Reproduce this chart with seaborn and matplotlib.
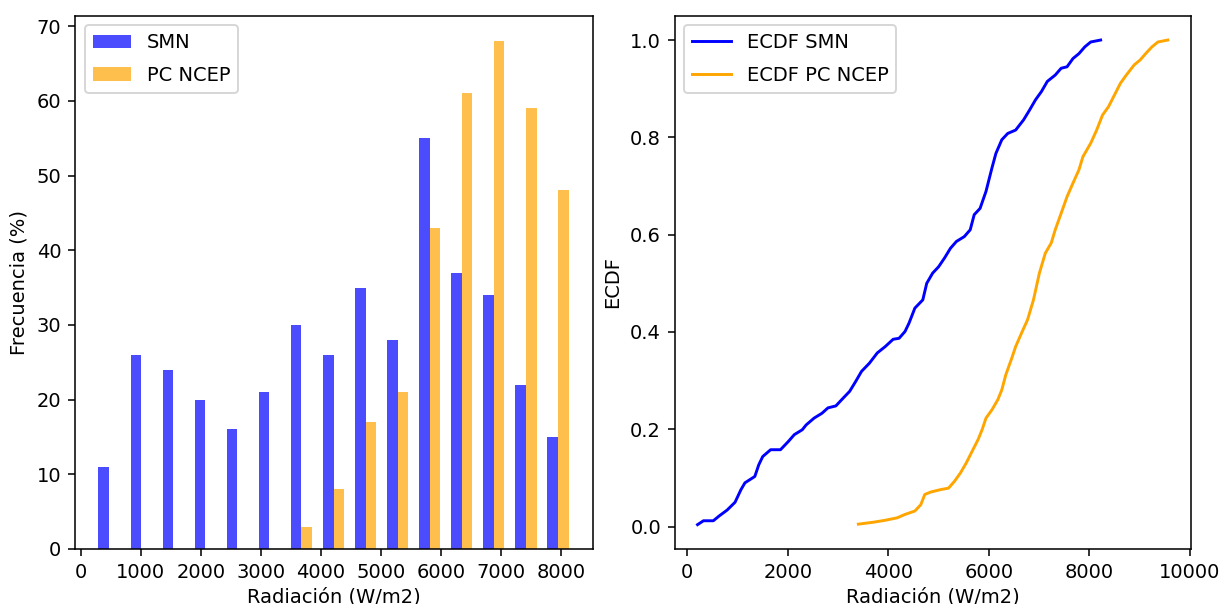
import numpy as np
import pandas as pd
import matplotlib
matplotlib.use("Agg")
import matplotlib.pyplot as plt
import seaborn as sns

# ---------------- data ----------------
series = ["SMN", "PC NCEP"]
n_bins = 15
bin_start = 205.0
bin_end = 8220.0
smn_counts = [11, 26, 24, 20, 16, 21, 30, 26, 35, 28, 55, 37, 34, 22, 15]
pc_counts = [0, 0, 0, 0, 0, 0, 3, 8, 17, 21, 43, 61, 68, 59, 48]

ecdf_smn_x = [205, 323, 519, 637, 794, 951, 1069, 1148, 1344, 1423, 1502, 1659,
              1855, 2012, 2130, 2288, 2366, 2524, 2681, 2799, 2956, 3074, 3231,
              3349, 3467, 3625, 3781, 3939, 4096, 4214, 4332, 4411, 4528, 4686,
              4764, 4882, 5000, 5118, 5236, 5354, 5511, 5629, 5708, 5825, 5943,
              6061, 6140, 6257, 6375, 6533, 6691, 6809, 6927, 7045, 7163, 7320,
              7438, 7555, 7673, 7791, 7909, 8026, 8223]
ecdf_smn_y = [0.004, 0.012, 0.012, 0.022, 0.034, 0.050, 0.076, 0.090, 0.103,
              0.127, 0.144, 0.158, 0.158, 0.175, 0.189, 0.199, 0.209, 0.223,
              0.233, 0.244, 0.248, 0.261, 0.278, 0.298, 0.319, 0.336, 0.357,
              0.370, 0.385, 0.387, 0.401, 0.418, 0.449, 0.466, 0.500, 0.521,
              0.534, 0.552, 0.572, 0.586, 0.596, 0.610, 0.641, 0.654, 0.689,
              0.737, 0.767, 0.795, 0.808, 0.815, 0.836, 0.856, 0.877, 0.894,
              0.915, 0.928, 0.942, 0.945, 0.962, 0.972, 0.986, 0.996, 1.000]

ecdf_pc_x = [3404, 3703, 3939, 4175, 4332, 4528, 4646, 4725, 4843, 5040, 5197,
             5315, 5433, 5551, 5668, 5786, 5865, 5943, 6061, 6179, 6257, 6337,
             6455, 6533, 6651, 6769, 6847, 6887, 7005, 7123, 7241, 7320, 7438,
             7555, 7673, 7791, 7870, 8026, 8144, 8262, 8380, 8498, 8616, 8734,
             8892, 9009, 9127, 9245, 9363, 9559]
ecdf_pc_y = [0.005, 0.009, 0.013, 0.018, 0.025, 0.032, 0.045, 0.066, 0.071,
             0.076, 0.079, 0.093, 0.110, 0.131, 0.155, 0.179, 0.199, 0.223,
             0.240, 0.261, 0.281, 0.312, 0.346, 0.370, 0.398, 0.425, 0.452,
             0.466, 0.521, 0.562, 0.583, 0.610, 0.644, 0.678, 0.706, 0.733,
             0.760, 0.788, 0.815, 0.846, 0.863, 0.887, 0.911, 0.928, 0.949,
             0.959, 0.973, 0.986, 0.996, 1.000]

# ---------------- figure ----------------
fig = plt.figure(figsize=(1220 / 140, 604 / 140), dpi=140)
ax1 = fig.add_axes([0.0615, 0.0911, 0.4243, 0.8829])
ax2 = fig.add_axes([0.5530, 0.0911, 0.4232, 0.8829])

edges = np.linspace(bin_start, bin_end, n_bins + 1)
centers = (edges[:-1] + edges[1:]) / 2
df = pd.DataFrame({
    "x": np.concatenate([centers, centers]),
    "w": smn_counts + pc_counts,
    "serie": [series[0]] * n_bins + [series[1]] * n_bins,
})
sns.histplot(data=df, x="x", weights="w", hue="serie", hue_order=series,
             bins=[float(e) for e in edges], multiple="dodge", shrink=0.66,
             alpha=0.7, palette={"SMN": "blue", "PC NCEP": "orange"},
             linewidth=0, ax=ax1)
sns.move_legend(ax1, "upper left", title=None, frameon=True, labelspacing=0.7)
ax1.set_xlim(-95, 8530)
ax1.set_xlabel("Radiación (W/m2)", labelpad=3)
ax1.set_ylabel("Frecuencia (%)")
ax1.set_xticks(np.arange(0, 8001, 1000))

sns.lineplot(x=ecdf_smn_x, y=ecdf_smn_y, sort=False, estimator=None,
             color="blue", linewidth=1.5, label="ECDF SMN", ax=ax2)
sns.lineplot(x=ecdf_pc_x, y=ecdf_pc_y, sort=False, estimator=None,
             color="orange", linewidth=1.5, label="ECDF PC NCEP", ax=ax2)
ax2.legend(loc="upper left", labelspacing=0.7)
ax2.set_xlim(-250, 10020)
ax2.set_ylim(-0.046, 1.05)
ax2.set_xlabel("Radiación (W/m2)", labelpad=3)
ax2.set_ylabel("ECDF")

fig.savefig("out.png", dpi=140)
